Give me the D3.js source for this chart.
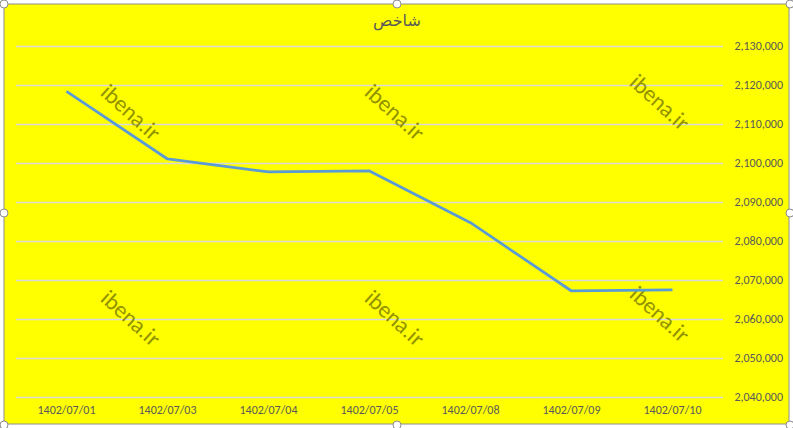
<!DOCTYPE html>
<html>
<head>
<meta charset="utf-8">
<script src="https://cdn.jsdelivr.net/npm/d3@7/dist/d3.min.js"></script>
<style>
  body { margin: 0; background: #fff; }
  text { font-family: "Segoe UI", Calibri, "Open Sans", "DejaVu Sans", sans-serif; }
</style>
</head>
<body>
<div id="chart"></div>
<script>
// Chart data
var dates = ["1402/07/01", "1402/07/03", "1402/07/04", "1402/07/05", "1402/07/08", "1402/07/09", "1402/07/10"];
var values = [2118350, 2101030, 2097700, 2097950, 2084700, 2067180, 2067440];
var yTicks = [2040000, 2050000, 2060000, 2070000, 2080000, 2090000, 2100000, 2110000, 2120000, 2130000];
var title = "شاخص";
var watermark = "ibena.ir";

var W = 793, H = 428;
var plot = {left: 16, right: 723, top: 46, bottom: 397};

var svg = d3.select("#chart").append("svg")
    .attr("width", W)
    .attr("height", H);

// chart background
svg.append("rect")
    .attr("x", 4).attr("y", 4)
    .attr("width", W - 8).attr("height", H - 8)
    .attr("fill", "#ffff00")
    .attr("stroke", "#8c8c8c")
    .attr("stroke-width", 1);

// Scales
var xScale = d3.scaleBand().domain(dates).range([plot.left, plot.right]);
var yScale = d3.scaleLinear().domain([2040000, 2130000]).range([plot.bottom, plot.top]);

// Gridlines
svg.append("g").selectAll("line")
    .data(yTicks)
    .enter().append("line")
    .attr("x1", plot.left).attr("x2", plot.right)
    .attr("y1", function(d) { return Math.round(yScale(d)) + 0.5; })
    .attr("y2", function(d) { return Math.round(yScale(d)) + 0.5; })
    .attr("stroke", "#d9d9d9")
    .attr("stroke-width", 1.5);

// Y axis on the right
var yAxis = d3.axisRight(yScale).tickValues(yTicks).tickSize(0).tickPadding(0)
    .tickFormat(d3.format(","));
var gy = svg.append("g")
    .attr("transform", "translate(783,0)")
    .call(yAxis);
gy.select(".domain").remove();
gy.selectAll("text")
    .attr("text-anchor", "end")
    .attr("fill", "#595959")
    .style("font-size", "12px");

// X axis
var xAxis = d3.axisBottom(xScale).tickSize(0).tickPadding(0);
var gx = svg.append("g")
    .attr("transform", "translate(0,405)")
    .call(xAxis);
gx.select(".domain").remove();
gx.selectAll("text")
    .attr("fill", "#595959")
    .style("font-size", "12px");

// Watermarks
var marks = [[131, 112], [395, 112], [660, 102], [131, 318], [395, 318], [660, 314]];
svg.append("g").selectAll("text")
    .data(marks)
    .enter().append("text")
    .attr("transform", function(d) { return "translate(" + d[0] + "," + d[1] + ") rotate(42)"; })
    .attr("text-anchor", "middle")
    .attr("dy", "0.35em")
    .attr("fill", "#858500")
    .attr("fill-opacity", 0.9)
    .style("font-size", "23px")
    .text(watermark);

// Line
var line = d3.line()
    .x(function(d, i) { return xScale(dates[i]) + xScale.bandwidth() / 2; })
    .y(function(d) { return yScale(d); });

svg.append("path")
    .datum(values)
    .attr("d", line)
    .attr("fill", "none")
    .attr("stroke", "#5b9bd5")
    .attr("stroke-width", 2.75)
    .attr("stroke-linejoin", "round");

// Title
svg.append("text")
    .attr("x", 397)
    .attr("y", 26)
    .attr("text-anchor", "middle")
    .attr("fill", "#595959")
    .style("font-size", "16px")
    .style("font-family", "'DejaVu Sans', sans-serif")
    .text(title);

// Selection handles
var handles = [[4, 4], [397, 4], [790, 4], [4, 213], [790, 213], [4, 425], [397, 425], [790, 425]];
svg.append("g").selectAll("circle")
    .data(handles)
    .enter().append("circle")
    .attr("cx", function(d) { return d[0]; })
    .attr("cy", function(d) { return d[1]; })
    .attr("r", 4)
    .attr("fill", "#fff")
    .attr("stroke", "#8c8c8c");
</script>
</body>
</html>
